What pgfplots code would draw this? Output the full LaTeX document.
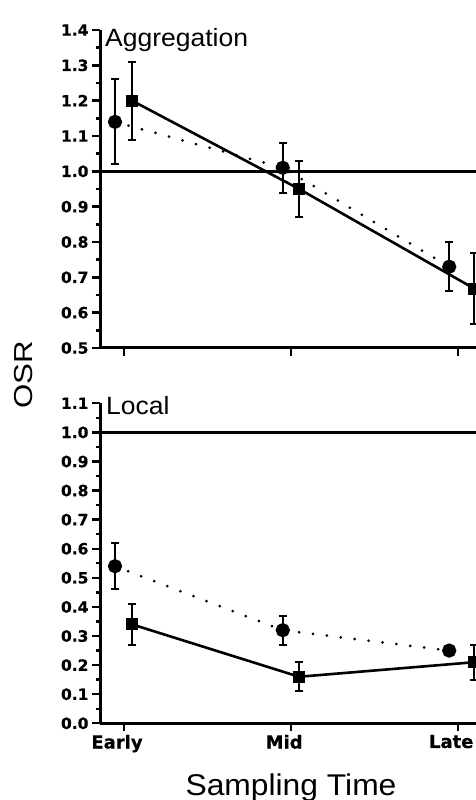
\documentclass[border=0pt]{standalone}
\usepackage{fontspec}
\setmainfont{Liberation Sans}
\newfontfamily\tickfont[FakeBold=0.6]{DejaVu Sans}
\newfontfamily\osrfont[FakeStretch=1.2]{Liberation Sans}
\newfontfamily\labfont[FakeStretch=1.06]{Liberation Sans}
\usepackage{pgfplots}
\pgfplotsset{compat=1.18}
\usepackage{pgfplotstable}

% Aggregation panel
\pgfplotstableread{
x y e
-0.054 1.14 0.12
0.950 1.01 0.07
1.946 0.73 0.07
}\aggcirc
\pgfplotstableread{
x y e
0.048 1.20 0.11
1.048 0.95 0.08
2.096 0.668 0.10
}\aggsq
% Local panel
\pgfplotstableread{
x y e
-0.054 0.54 0.08
0.950 0.32 0.05
1.946 0.25 0.01
}\loccirc
\pgfplotstableread{
x y e
0.048 0.34 0.07
1.048 0.16 0.05
2.096 0.21 0.06
}\locsq

\pgfplotsset{
  panel/.style={
    width=390pt, scale only axis,
    xmin=-0.1437, xmax=2.19,
    axis x line*=bottom, axis y line*=left,
    axis line style={line width=3pt, black},
    xtick={0,1,2},
    tick align=outside,
    major tick length=8pt, minor tick length=4.5pt,
    every tick/.style={black, line width=2.4pt},
    minor y tick num=1,
    yticklabel style={font=\tickfont\bfseries\fontsize{15.5}{15.5}\selectfont,
      /pgf/number format/.cd, fixed, fixed zerofill, precision=1, assume math mode=true},
    xticklabel style={font=\tickfont\bfseries\fontsize{18}{18}\selectfont, xshift=-7pt},
  },
  circser/.style={black, line width=3pt, dash pattern=on 0pt off 14pt, line cap=round,
    mark=*, mark size=5.6pt, mark options={solid, fill=black},
    error bars/.cd, y dir=both, y explicit,
    error bar style={solid, line width=2pt, line cap=butt},
    error mark options={rotate=90, mark size=4pt, line width=2pt, solid}},
  sqser/.style={black, line width=2.6pt, solid,
    mark=square*, mark size=4.8pt, mark options={solid, fill=black},
    error bars/.cd, y dir=both, y explicit,
    error bar style={solid, line width=2pt},
    error mark options={rotate=90, mark size=4pt, line width=2pt, solid}},
}

\begin{document}
\begin{tikzpicture}
\begin{axis}[panel, at={(100pt,452pt)}, anchor=south west,
  height=318pt, ymin=0.5, ymax=1.4,
  ytick={0.5,0.6,0.7,0.8,0.9,1.0,1.1,1.2,1.3,1.4},
  xticklabels={}]
  \addplot[black, line width=2.6pt, mark=none] coordinates {(-0.1437,1) (2.19,1)};
  \addplot[circser] table[x=x, y=y, y error=e] {\aggcirc};
  \addplot[sqser] table[x=x, y=y, y error=e] {\aggsq};
\end{axis}
\begin{axis}[panel, at={(100pt,76.7pt)}, anchor=south west,
  height=320pt, ymin=0, ymax=1.1,
  ytick={0,0.1,0.2,0.3,0.4,0.5,0.6,0.7,0.8,0.9,1.0,1.1},
  xticklabels={Early,Mid,Late}]
  \addplot[black, line width=2.6pt, mark=none] coordinates {(-0.1437,1) (2.19,1)};
  \addplot[circser] table[x=x, y=y, y error=e] {\loccirc};
  \addplot[sqser] table[x=x, y=y, y error=e] {\locsq};
\end{axis}
\node[anchor=base west, font=\labfont\fontsize{25}{25}\selectfont, inner sep=0pt] at (105pt,753pt) {Aggregation};
\node[anchor=base west, font=\labfont\fontsize{25}{25}\selectfont, inner sep=0pt] at (106pt,385pt) {Local};
\node[rotate=90, font=\osrfont\fontsize{26}{26}\selectfont, inner sep=0pt] at (24pt,425pt) {OSR};
\node[anchor=base, font=\labfont\fontsize{30}{30}\selectfont, inner sep=0pt] at (291pt,5pt) {Sampling Time};
\pgfresetboundingbox
\useasboundingbox (0,0) rectangle (476pt,800pt);
\end{tikzpicture}
\end{document}
